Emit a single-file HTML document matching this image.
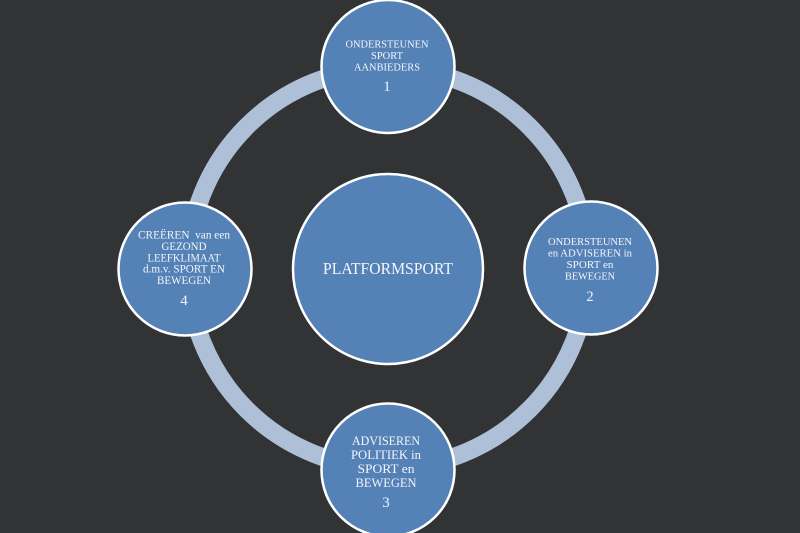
<!DOCTYPE html>
<html>
<head>
<meta charset="utf-8">
<style>
  html, body { margin: 0; padding: 0; background: #323335; }
  body { width: 800px; height: 533px; overflow: hidden; }
  svg { display: block; }
  text { font-family: "Liberation Serif", "DejaVu Serif", serif; fill: #f4f6fa; text-anchor: middle; }
</style>
</head>
<body>
<svg width="800" height="533" viewBox="0 0 800 533" xmlns="http://www.w3.org/2000/svg">
  <rect x="0" y="0" width="800" height="533" fill="#323335"/>
  <!-- ring -->
  <circle cx="388" cy="268" r="200" fill="none" stroke="#aec0d8" stroke-width="18"/>

  <!-- center -->
  <circle cx="388" cy="269" r="95" fill="#5481b6" stroke="#ffffff" stroke-width="2.5"/>
  <text x="388" y="274" font-size="17" textLength="130" lengthAdjust="spacingAndGlyphs">PLATFORMSPORT</text>

  <!-- top node 1 -->
  <circle cx="388" cy="66.5" r="66.5" fill="#5481b6" stroke="#ffffff" stroke-width="2.5"/>
  <text x="387" y="47.5" font-size="11" textLength="83" lengthAdjust="spacingAndGlyphs">ONDERSTEUNEN</text>
  <text x="387" y="59" font-size="11" textLength="32" lengthAdjust="spacingAndGlyphs">SPORT</text>
  <text x="387" y="70.5" font-size="11" textLength="66" lengthAdjust="spacingAndGlyphs">AANBIEDERS</text>
  <text x="387" y="91" font-size="14.5">1</text>

  <!-- right node 2 -->
  <circle cx="591" cy="268" r="66.5" fill="#5481b6" stroke="#ffffff" stroke-width="2.5"/>
  <text x="590" y="245" font-size="11" textLength="84" lengthAdjust="spacingAndGlyphs">ONDERSTEUNEN</text>
  <text x="590" y="256.5" font-size="11" textLength="84" lengthAdjust="spacingAndGlyphs">en ADVISEREN in</text>
  <text x="590" y="268" font-size="11" textLength="47" lengthAdjust="spacingAndGlyphs">SPORT en</text>
  <text x="590" y="279.5" font-size="11" textLength="50" lengthAdjust="spacingAndGlyphs">BEWEGEN</text>
  <text x="590" y="301" font-size="14.5">2</text>

  <!-- left node 4 -->
  <circle cx="185" cy="269" r="66.5" fill="#5481b6" stroke="#ffffff" stroke-width="2.5"/>
  <text x="184" y="238.7" font-size="11.2" textLength="92" lengthAdjust="spacingAndGlyphs">CREËREN&#160; van een</text>
  <text x="184" y="250" font-size="11.2" textLength="45" lengthAdjust="spacingAndGlyphs">GEZOND</text>
  <text x="184" y="261.3" font-size="11.2" textLength="73" lengthAdjust="spacingAndGlyphs">LEEFKLIMAAT</text>
  <text x="184" y="272.6" font-size="11.2" textLength="82" lengthAdjust="spacingAndGlyphs">d.m.v. SPORT EN</text>
  <text x="184" y="284" font-size="11.2" textLength="54" lengthAdjust="spacingAndGlyphs">BEWEGEN</text>
  <text x="184" y="305" font-size="15">4</text>

  <!-- bottom node 3 -->
  <circle cx="388" cy="470" r="66.5" fill="#5481b6" stroke="#ffffff" stroke-width="2.5"/>
  <text x="386" y="445" font-size="12.6" textLength="68" lengthAdjust="spacingAndGlyphs">ADVISEREN</text>
  <text x="386" y="459" font-size="12.6" textLength="70" lengthAdjust="spacingAndGlyphs">POLITIEK in</text>
  <text x="386" y="473" font-size="12.6" textLength="57" lengthAdjust="spacingAndGlyphs">SPORT en</text>
  <text x="386" y="487" font-size="12.6" textLength="61" lengthAdjust="spacingAndGlyphs">BEWEGEN</text>
  <text x="386" y="507" font-size="15">3</text>
</svg>
</body>
</html>
